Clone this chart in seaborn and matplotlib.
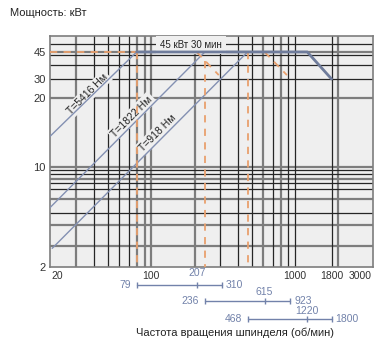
import numpy as np
import pandas as pd
import seaborn as sns
import matplotlib
matplotlib.use("Agg")
import matplotlib.pyplot as plt
import matplotlib.transforms as mtransforms
from matplotlib.ticker import NullLocator

# --- данные ---
X_TICKS = [20, 100, 1000, 1800, 3000]
Y_TICKS = [2, 10, 20, 30, 45]

# кривая мощности (синяя, толстая)
POWER_N = [79, 1220, 1800]
POWER_P = [45, 45, 30]

# линии постоянного момента
TORQUE_LABELS = ["T=5416 Нм", "T=1822 Нм", "T=918 Нм"]
TORQUE_N0 = [19.7, 19.7, 20.4]
TORQUE_P0 = [13.6, 5.2, 2.7]
TORQUE_N1 = [79, 236, 468]
TORQUE_P1 = [45, 45, 45]
TORQUE_LABEL_N = [36, 73, 111]
TORQUE_LABEL_P = [21.5, 16.6, 14.1]

# оранжевые пунктиры
ORANGE_N = [[19.7, 79], [79, 79], [207, 295], [236, 236], [468, 468], [615, 880]]
ORANGE_P = [[45, 45], [45, 2], [45, 31.8], [39.5, 2], [45, 2], [45, 31.8]]

# диапазоны скоростей под осью
RANGE_LO = [79, 236, 468]
RANGE_MID = [207, 615, 1220]
RANGE_HI = [310, 923, 1800]

# сетка
VGRID_DARK = [40, 50, 60, 70, 300, 400, 500, 700, 900, 1000, 1800]
VGRID_GRAY = [30, 80, 90, 100, 200, 600, 800, 2000]
HGRID_DARK = [50.8, 43, 37, 30, 9.5, 8.9, 7.7, 7.0, 4.8]
HGRID_GRAY = [45, 20, 10, 8.2, 6.0, 3.9, 2.8]

BG = "#efefef"
BLUE = "#8390b2"
BLUE_DARK = "#6f7c9b"
ORANGE = "#e9a06d"
GRID_DARK = "#262626"
GRID_GRAY = "#7d7d7d"
RANGE_COLOR = "#7282aa"

sns.set_theme(style="white")
plt.rcParams["font.family"] = ["Liberation Sans Narrow", "Liberation Sans", "DejaVu Sans"]

# неравномерная шкала мощности, как на исходной картинке
_ANCH_V = np.log10([1, 2, 10, 20, 30, 45, 100])
_ANCH_R = -np.array([309, 267, 167, 98, 79, 52, 0], dtype=float)


def y_fwd(v):
    v = np.clip(np.asarray(v, dtype=float), 1e-6, None)
    return np.interp(np.log10(v), _ANCH_V, _ANCH_R)


def y_inv(u):
    return 10 ** np.interp(np.asarray(u, dtype=float), _ANCH_R, _ANCH_V)


fig = plt.figure(figsize=(3.75, 3.43), dpi=100)
ax = fig.add_axes([50 / 375, 76 / 343, 323 / 375, 231 / 343])
ax.set_facecolor(BG)

# таблицы для seaborn
torque_df = pd.DataFrame({
    "n": [v for pair in zip(TORQUE_N0, TORQUE_N1) for v in pair],
    "P": [v for pair in zip(TORQUE_P0, TORQUE_P1) for v in pair],
    "seg": [i for i in range(len(TORQUE_N0)) for _ in range(2)],
})
power_df = pd.DataFrame({"n": POWER_N, "P": POWER_P, "seg": 0})
orange_df = pd.DataFrame({
    "n": [v for seg in ORANGE_N for v in seg],
    "P": [v for seg in ORANGE_P for v in seg],
    "seg": [i for i, seg in enumerate(ORANGE_N) for _ in seg],
})

sns.lineplot(data=torque_df, x="n", y="P", units="seg", estimator=None, sort=False,
             color=BLUE, lw=1.0, ax=ax, zorder=4, legend=False)
sns.lineplot(data=orange_df, x="n", y="P", units="seg", estimator=None, sort=False,
             color=ORANGE, lw=1.3, ls=(0, (4, 3.5)), ax=ax, zorder=4, legend=False)
sns.lineplot(data=power_df, x="n", y="P", units="seg", estimator=None, sort=False,
             color=BLUE_DARK, lw=2.0, ax=ax, zorder=5, legend=False)

ax.set_xscale("log")
ax.set_yscale("function", functions=(y_fwd, y_inv))
ax.set_xlim(19.7, 3500)
ax.set_ylim(2, 57.5)

# сетка
for v in VGRID_GRAY:
    ax.axvline(v, color=GRID_GRAY, lw=1.6, zorder=1)
for v in VGRID_DARK:
    ax.axvline(v, color=GRID_DARK, lw=0.9, zorder=1.1)
for v in HGRID_GRAY:
    ax.axhline(v, color=GRID_GRAY, lw=1.6, zorder=1)
for v in HGRID_DARK:
    ax.axhline(v, color=GRID_DARK, lw=0.9, zorder=1.1)

ax.set_xticks(X_TICKS)
ax.set_xticklabels([str(v) for v in X_TICKS])
ax.xaxis.set_minor_locator(NullLocator())
ax.set_yticks(Y_TICKS)
ax.set_yticklabels([str(v) for v in Y_TICKS])
ax.yaxis.set_minor_locator(NullLocator())
ax.tick_params(axis="y", length=0, pad=3, labelsize=8, colors="#333333")
ax.tick_params(axis="x", length=0, pad=3, labelsize=7.5, colors="#333333")
xlabels = ax.get_xticklabels()
xlabels[0].set_ha("left")
xlabels[-1].set_transform(xlabels[-1].get_transform()
                          + mtransforms.ScaledTranslation(-3 / 100, 0, fig.dpi_scale_trans))
ax.set_xlabel("")
ax.set_ylabel("")
for s in ax.spines.values():
    s.set_color(GRID_GRAY)
    s.set_linewidth(1.2)

box = dict(boxstyle="square,pad=0.2", fc=BG, ec="none")
for lab, n, p in zip(TORQUE_LABELS, TORQUE_LABEL_N, TORQUE_LABEL_P):
    ax.text(n, p, lab, rotation=45, ha="center", va="center", fontsize=7.5,
            color="#222222", bbox=box, zorder=3)
ax.text(190, 50.1, "45 кВт 30 мин", ha="center", va="center", fontsize=7,
        color="#222222", bbox=dict(boxstyle="square,pad=0.4", fc=BG, ec="none"), zorder=3)

# диапазоны скоростей под осью
trans = mtransforms.blended_transform_factory(ax.transData, ax.transAxes)
row_y = [-0.076, -0.149, -0.226]
mid_dy = [8, 7, 6]
for lo, mid, hi, yr, dy in zip(RANGE_LO, RANGE_MID, RANGE_HI, row_y, mid_dy):
    ax.plot([lo, hi], [yr, yr], transform=trans, clip_on=False, color=RANGE_COLOR, lw=1.0)
    ax.plot([lo, mid, hi], [yr] * 3, transform=trans, clip_on=False, ls="none",
            marker="|", ms=5, mew=1.0, color=RANGE_COLOR)
    kw = dict(xycoords=trans, textcoords="offset points", fontsize=7.5,
              color=RANGE_COLOR, annotation_clip=False)
    ax.annotate(str(lo), (lo, yr), xytext=(-4, 0), ha="right", va="center", **kw)
    ax.annotate(str(hi), (hi, yr), xytext=(3, 0), ha="left", va="center", **kw)
    ax.annotate(str(mid), (mid, yr), xytext=(0, dy), ha="center", va="center", **kw)

fig.text(10 / 375, 1 - 13 / 343, "Мощность: кВт", ha="left", va="center",
         fontsize=8, color="#222222")
fig.text(235 / 375, 1 - 333 / 343, "Частота вращения шпинделя (об/мин)", ha="center",
         va="center", fontsize=8, color="#222222")

fig.savefig("out.png", dpi=100, facecolor="white")
